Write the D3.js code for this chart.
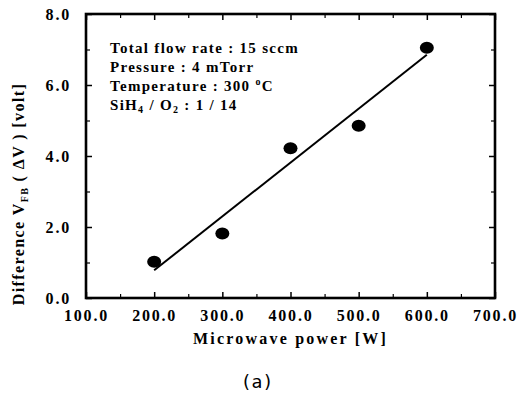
<!DOCTYPE html>
<html>
<head>
<meta charset="utf-8">
<script src="https://cdn.jsdelivr.net/npm/d3@7"></script>
<style>
  html, body { margin: 0; padding: 0; background: #fff; }
  svg { display: block; }
</style>
</head>
<body>
<svg id="chart" width="517" height="404"></svg>
<script>
// Measured flat-band voltage shift vs. microwave power
const powerW = [200, 300, 400, 500, 600];
const deltaV = [1.02, 1.82, 4.22, 4.85, 7.05];

// Least-squares fit line endpoints
const fitPower = [200, 600];
const fitDeltaV = [0.78, 6.85];

// Axis ticks
const xMajor = [100, 200, 300, 400, 500, 600, 700];
const xMinor = [150, 250, 350, 450, 550, 650];
const yMajor = [0, 2, 4, 6, 8];
const yMinor = [1, 3, 5, 7];

// Process conditions
const conditions = [
  [["Total flow rate : 15 sccm", 0]],
  [["Pressure : 4 mTorr", 0]],
  [["Temperature : 300 ", 0], ["o", 1], ["C", 0]],
  [["SiH", 0], ["4", -1], [" / O", 0], ["2", -1], [" : 1 / 14", 0]]
];

const SERIF = "'Liberation Serif', 'Times New Roman', serif";

const svg = d3.select("#chart");
const plotLeft = 86, plotRight = 495, plotTop = 14, plotBottom = 298;

const x = d3.scaleLinear().domain([100, 700]).range([plotLeft, plotRight]);
const y = d3.scaleLinear().domain([0, 8]).range([plotBottom, plotTop]);

const fmt = d3.format(".1f");

function styleAxis(g, w) {
  g.select(".domain").remove();
  g.selectAll("line").attr("stroke", "#000").attr("stroke-width", w);
  g.selectAll("text")
    .attr("font-family", SERIF).attr("font-weight", "bold")
    .attr("font-size", 16).attr("letter-spacing", 1.8).attr("fill", "#000");
}

// Bottom axis with labels
svg.append("g").attr("transform", `translate(0,${plotBottom})`)
  .call(d3.axisBottom(x).tickValues(xMajor).tickFormat(fmt).tickSizeInner(-6).tickSizeOuter(0).tickPadding(12))
  .call(styleAxis, 1.5);
svg.append("g").attr("transform", `translate(0,${plotBottom})`)
  .call(d3.axisBottom(x).tickValues(xMinor).tickFormat("").tickSizeInner(-4).tickSizeOuter(0))
  .call(styleAxis, 1.2);

// Top axis (ticks only)
svg.append("g").attr("transform", `translate(0,${plotTop})`)
  .call(d3.axisTop(x).tickValues(xMajor).tickFormat("").tickSizeInner(-6).tickSizeOuter(0))
  .call(styleAxis, 1.5);
svg.append("g").attr("transform", `translate(0,${plotTop})`)
  .call(d3.axisTop(x).tickValues(xMinor).tickFormat("").tickSizeInner(-4).tickSizeOuter(0))
  .call(styleAxis, 1.2);

// Left axis with labels
svg.append("g").attr("transform", `translate(${plotLeft},0)`)
  .call(d3.axisLeft(y).tickValues(yMajor).tickFormat(fmt).tickSizeInner(-6).tickSizeOuter(0).tickPadding(15))
  .call(styleAxis, 1.5);
svg.append("g").attr("transform", `translate(${plotLeft},0)`)
  .call(d3.axisLeft(y).tickValues(yMinor).tickFormat("").tickSizeInner(-4).tickSizeOuter(0))
  .call(styleAxis, 1.2);

// Right axis (ticks only)
svg.append("g").attr("transform", `translate(${plotRight},0)`)
  .call(d3.axisRight(y).tickValues(yMajor).tickFormat("").tickSizeInner(-6).tickSizeOuter(0))
  .call(styleAxis, 1.5);
svg.append("g").attr("transform", `translate(${plotRight},0)`)
  .call(d3.axisRight(y).tickValues(yMinor).tickFormat("").tickSizeInner(-4).tickSizeOuter(0))
  .call(styleAxis, 1.2);

// Plot frame
svg.append("rect")
  .attr("x", plotLeft).attr("y", plotTop)
  .attr("width", plotRight - plotLeft).attr("height", plotBottom - plotTop)
  .attr("fill", "none").attr("stroke", "#000").attr("stroke-width", 2.6);

// Fit line
svg.append("line")
  .attr("x1", x(fitPower[0])).attr("y1", y(fitDeltaV[0]))
  .attr("x2", x(fitPower[1])).attr("y2", y(fitDeltaV[1]))
  .attr("stroke", "#000").attr("stroke-width", 2);

// Data points
svg.append("g").selectAll("ellipse")
  .data(powerW.map((p, i) => [p, deltaV[i]]))
  .join("ellipse")
  .attr("cx", d => x(d[0])).attr("cy", d => y(d[1]))
  .attr("rx", 7).attr("ry", 6)
  .attr("fill", "#000");

// Conditions text block
const cond = svg.append("text")
  .attr("font-family", SERIF).attr("font-weight", "bold").attr("fill", "#000")
  .attr("font-size", 15).attr("letter-spacing", 1.3);
conditions.forEach((line, i) => {
  line.forEach(([s, shift], j) => {
    const t = cond.append("tspan").text(s);
    if (j === 0) t.attr("x", 110).attr("y", 53 + i * 19);
    if (shift !== 0) {
      t.attr("font-size", 10).attr("dy", shift > 0 ? -6 : 3);
    } else if (j > 0 && line[j - 1][1] !== 0) {
      t.attr("dy", line[j - 1][1] > 0 ? 6 : -3);
    }
  });
});

// X axis title
svg.append("text")
  .attr("font-family", SERIF).attr("font-weight", "bold").attr("fill", "#000")
  .attr("x", (plotLeft + plotRight) / 2).attr("y", 344)
  .attr("text-anchor", "middle")
  .attr("font-size", 16).attr("letter-spacing", 2.2)
  .text("Microwave power [W]");

// Y axis title
const yt = svg.append("text")
  .attr("font-family", SERIF).attr("font-weight", "bold").attr("fill", "#000")
  .attr("transform", `translate(24,${(plotTop + plotBottom) / 2 + 38}) rotate(-90)`)
  .attr("text-anchor", "middle")
  .attr("font-size", 16).attr("letter-spacing", 1.4);
yt.append("tspan").text("Difference  V");
yt.append("tspan").attr("font-size", 10).attr("dy", 4).text("FB");
yt.append("tspan").attr("dy", -4).text(" ( \u0394V ) [volt]");

// Panel label
svg.append("text")
  .attr("x", 257).attr("y", 388)
  .attr("text-anchor", "middle")
  .attr("font-family", "'DejaVu Sans Mono', monospace")
  .attr("font-size", 18)
  .attr("fill", "#000")
  .text("(a)");
</script>
</body>
</html>
